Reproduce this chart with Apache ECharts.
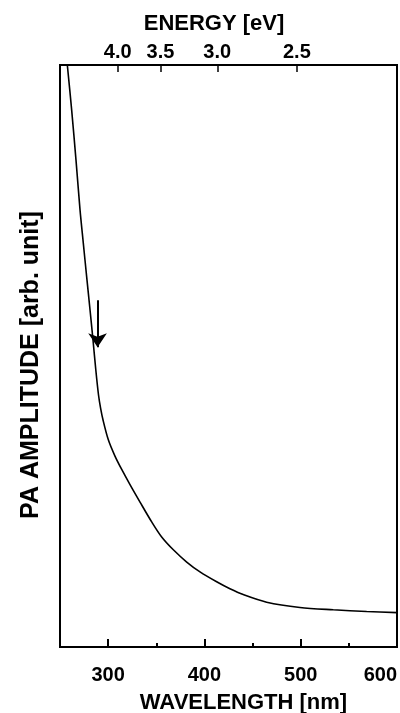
<!DOCTYPE html>
<html>
<head>
<meta charset="utf-8">
<script src="https://cdn.jsdelivr.net/npm/echarts@6/dist/echarts.min.js"></script>
<style>
html,body{margin:0;padding:0;background:#fff;}
#c{width:400px;height:713px;}
</style>
</head>
<body>
<div id="c"></div>
<script>
// Data
const wavelength = [257.6, 262.1, 266.6, 270.8, 274.2, 277.7, 281.2, 284.3, 287.2, 290.0, 292.1, 294.7, 300.2, 307.1, 314.1, 322.7, 333.1, 345.2, 355.6, 367.7, 381.6, 395.4, 412.7, 426.5, 440.3, 464.6, 499.2, 533.8, 568.5, 600.0];
const amplitude  = [100.0, 92.3, 83.7, 75.1, 69.4, 63.6, 57.9, 52.7, 47.6, 43.3, 41.1, 39.0, 35.6, 32.8, 30.5, 27.9, 24.9, 21.5, 18.9, 16.7, 14.6, 12.9, 11.2, 10.0, 9.0, 7.7, 6.8, 6.4, 6.1, 5.9];
const wavelengthLabels = [300, 400, 500, 600];
const wavelengthMinorTicks = [350, 450, 550];
const energyLabels = [4.0, 3.5, 3.0, 2.5];
const arrowWavelength = 289;
const arrowFrom = 59.6;
const arrowTo = 51.5;

const energyPositions = energyLabels.map(e => 1240 / e);
const seriesData = wavelength.map((w, i) => [w, amplitude[i]]);

const font = '"Liberation Sans", Arial, Helvetica, sans-serif';

const chart = echarts.init(document.getElementById('c'));
chart.setOption({
  backgroundColor: '#fff',
  animation: false,
  grid: {left: 60, right: 3, top: 65, bottom: 66, show: true, borderColor: '#000', borderWidth: 2, backgroundColor: 'transparent', containLabel: false, outerBoundsMode: 'none'},
  xAxis: [
    {
      type: 'value', min: 250, max: 600, position: 'bottom',
      name: 'WAVELENGTH [nm]', nameLocation: 'middle', nameGap: 45,
      nameTextStyle: {fontFamily: font, fontSize: 22, fontWeight: 'bold', color: '#000', padding: [0, 0, 0, 30]},
      axisLine: {show: false},
      splitLine: {show: false},
      axisTick: {show: true, inside: true, length: 8, lineStyle: {color: '#000', width: 2}, customValues: wavelengthLabels},
      axisLabel: {show: true, margin: 18, fontFamily: font, fontSize: 20, fontWeight: 'bold', color: '#000', customValues: wavelengthLabels, alignMaxLabel: 'right'}
    },
    {
      type: 'value', min: 250, max: 600, position: 'bottom', offset: 0,
      axisLine: {show: false},
      splitLine: {show: false},
      axisTick: {show: true, inside: true, length: 4, lineStyle: {color: '#000', width: 2}, customValues: wavelengthMinorTicks},
      axisLabel: {show: false}
    },
    {
      type: 'value', min: 250, max: 600, position: 'top',
      name: 'ENERGY [eV]', nameLocation: 'middle', nameGap: 30,
      nameTextStyle: {fontFamily: font, fontSize: 22, fontWeight: 'bold', color: '#000', padding: [0, 29, 0, 0]},
      axisLine: {show: false},
      splitLine: {show: false},
      axisTick: {show: true, inside: true, length: 7, lineStyle: {color: '#000', width: 1.5}, customValues: energyPositions},
      axisLabel: {show: true, margin: 3, fontFamily: font, fontSize: 20, fontWeight: 'bold', color: '#000', customValues: energyPositions,
        formatter: v => (1240 / v).toFixed(1)}
    }
  ],
  yAxis: {
    type: 'value', min: 0, max: 100,
    name: 'PA AMPLITUDE [arb. unit]', nameLocation: 'middle', nameGap: 16,
    nameTextStyle: {fontFamily: font, fontSize: 25, fontWeight: 'bold', color: '#000', padding: [0, 18, 0, 0]},
    axisLine: {show: false}, axisTick: {show: false}, axisLabel: {show: false}, splitLine: {show: false}
  },
  series: [{
    type: 'line',
    xAxisIndex: 0,
    data: seriesData,
    smooth: 0.3,
    showSymbol: false,
    lineStyle: {color: '#000', width: 1.6},
    markLine: {
      silent: true,
      symbol: ['none', 'arrow'],
      symbolSize: 14,
      label: {show: false},
      lineStyle: {color: '#000', width: 2, type: 'solid'},
      data: [[{coord: [arrowWavelength, arrowFrom]}, {coord: [arrowWavelength, arrowTo]}]]
    }
  }]
});
</script>
</body>
</html>
